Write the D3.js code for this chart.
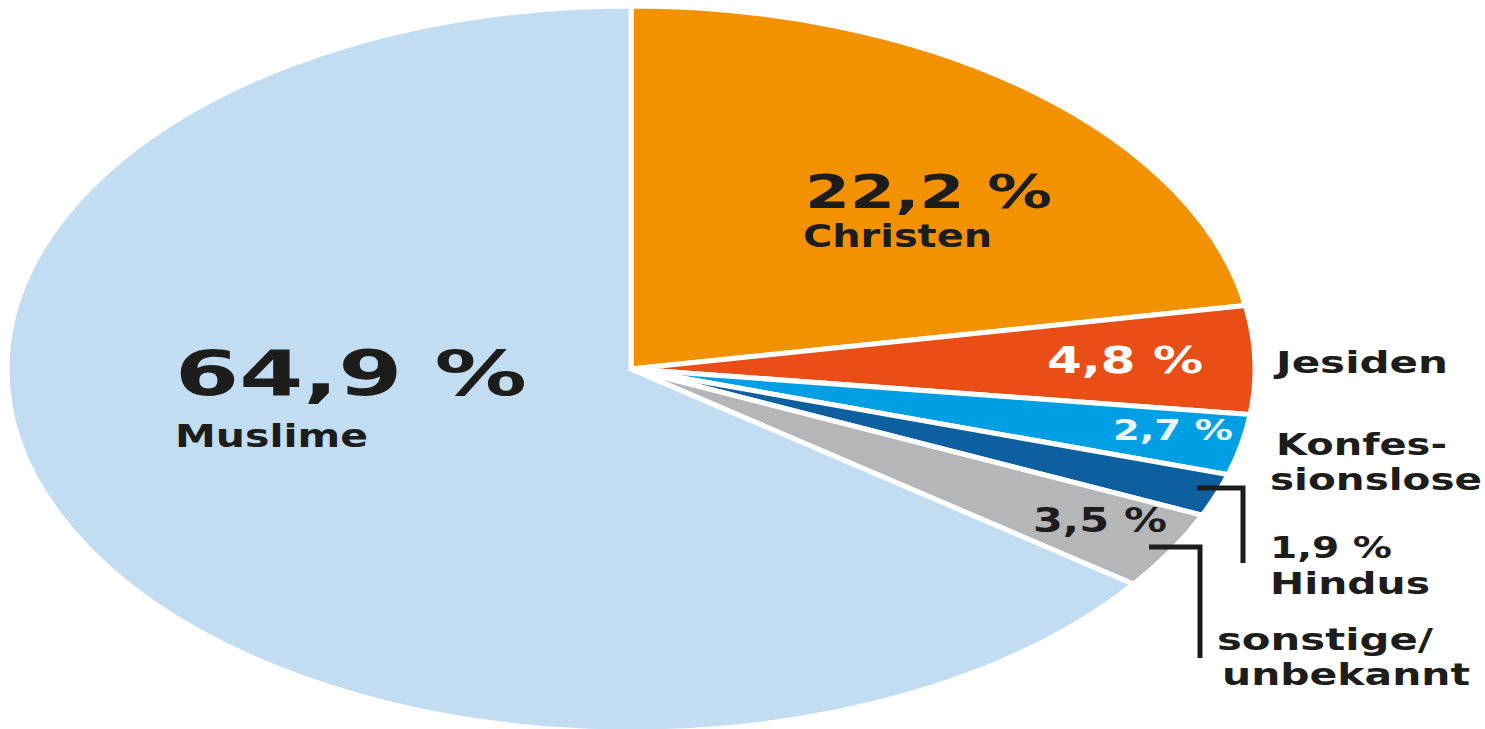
<!DOCTYPE html>
<html>
<head>
<meta charset="utf-8">
<script src="https://cdn.jsdelivr.net/npm/d3@7"></script>
<style>
  html, body { margin: 0; padding: 0; background: #fff; }
  svg { display: block; }
  text { font-family: "DejaVu Sans", sans-serif; font-weight: bold; fill: #1d1d1b; }
</style>
</head>
<body>
<div id="chart"></div>
<script>
// data
var groups = ['Christen', 'Jesiden', 'Konfessionslose', 'Hindus', 'sonstige/unbekannt', 'Muslime']
var shares = [22.2, 4.8, 2.7, 1.9, 3.5, 64.9]
var pctLabels = ['22,2 %', '4,8 %', '2,7 %', '1,9 %', '3,5 %', '64,9 %']
var nameLabels = [['Christen'], ['Jesiden'], ['Konfes-', 'sionslose'], ['Hindus'], ['sonstige/', 'unbekannt'], ['Muslime']]

var colors = ['#f39200', '#e84e15', '#009fe3', '#0e5fa0', '#b5b6b8', '#c2ddf2']

var W = 1485, H = 729
var cx = 631, cy = 369
var ry = 363, rx = 624

var svg = d3.select('#chart')
  .append('svg')
  .attr('width', W)
  .attr('height', H)

var pie = d3.pie().sort(null).value(function (d) { return d })
var arcs = pie(shares)

var arc = d3.arc()
  .innerRadius(0)
  .outerRadius(ry)

// pie is stretched horizontally like in the print graphic
var g = svg.append('g')
  .attr('transform', 'translate(' + cx + ',' + cy + ') scale(' + (rx / ry) + ',1)')

g.selectAll('path')
  .data(arcs)
  .enter()
  .append('path')
  .attr('d', arc)
  .attr('fill', function (d, i) { return colors[i] })
  .attr('stroke', '#fff')
  .attr('stroke-width', 5)
  .attr('stroke-linejoin', 'miter')
  .attr('vector-effect', 'non-scaling-stroke')

// label layout: [x, baseline, font size, text width, colour]
var pctPos = [
  [805, 208, 47, 247, '#1d1d1b'],
  [1047, 373, 38, 156, '#ffffff'],
  [1113, 440, 29, 120, '#e8f6fd'],
  [1270, 558, 31, 122, '#1d1d1b'],
  [1033, 532, 34, 134, '#1d1d1b'],
  [175, 395, 62, 352, '#1d1d1b']
]
var namePos = [
  [[803, 247, 32, 189]],
  [[1276, 373, 31, 172]],
  [[1276, 455, 31, 171], [1270, 490, 31, 212]],
  [[1270, 594, 31, 160]],
  [[1217, 650, 31, 216], [1222, 685, 31, 248]],
  [[175, 447, 32, 193]]
]

var labels = svg.append('g').attr('class', 'labels')

pctLabels.forEach(function (t, i) {
  var p = pctPos[i]
  labels.append('text')
    .attr('x', p[0])
    .attr('y', p[1])
    .style('font-size', p[2] + 'px')
    .style('fill', p[4])
    .attr('textLength', p[3])
    .attr('lengthAdjust', 'spacingAndGlyphs')
    .text(t)
})

nameLabels.forEach(function (lines, i) {
  lines.forEach(function (t, j) {
    var p = namePos[i][j]
    labels.append('text')
      .attr('x', p[0])
      .attr('y', p[1])
      .style('font-size', p[2] + 'px')
      .attr('textLength', p[3])
      .attr('lengthAdjust', 'spacingAndGlyphs')
      .text(t)
  })
})

// leader lines for the small slices
var leaders = [
  [[1197, 488], [1243, 488], [1243, 563]],
  [[1149, 547], [1200, 547], [1200, 658]]
]
svg.selectAll('.leader')
  .data(leaders)
  .enter()
  .append('path')
  .attr('class', 'leader')
  .attr('d', d3.line())
  .attr('fill', 'none')
  .attr('stroke', '#1d1d1b')
  .attr('stroke-width', 5)
</script>
</body>
</html>
